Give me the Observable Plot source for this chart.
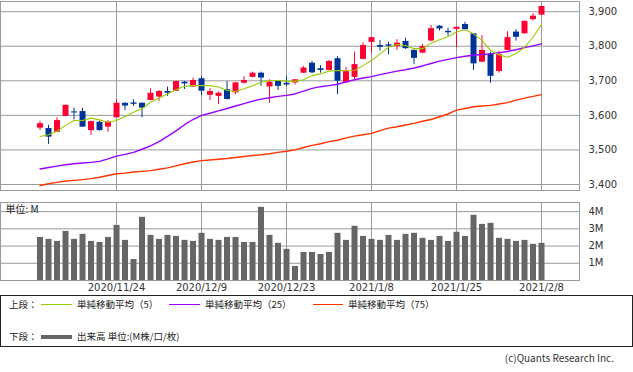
<!DOCTYPE html>
<html><head><meta charset="utf-8">
<script src="https://cdn.jsdelivr.net/npm/d3@7"></script>
<script src="https://cdn.jsdelivr.net/npm/@observablehq/plot@0.6"></script>
<style>
html,body{margin:0;padding:0;background:#fff;}
#wrap{position:relative;width:633px;height:372px;overflow:hidden;font-family:"Noto Sans CJK JP",sans-serif;color:#222;}
#price{position:absolute;left:0;top:0;}
#vol{position:absolute;left:0;top:196px;}
#legend{position:absolute;left:0;top:295px;width:631px;height:50px;border:1px solid #222;font-size:9.5px;}
.lt{position:absolute;line-height:12px;white-space:nowrap;}
.sw{position:absolute;}
#copy{position:absolute;right:19px;top:350px;font-size:10px;color:#333;white-space:nowrap;}
</style></head>
<body>
<div id="wrap">
  <div id="price"></div>
  <div id="vol"></div>
  <div id="legend"></div>
  <div id="copy">(c)Quants Research Inc.</div>
</div>
<script>
// ---- data ----
const open  = [3563,3562,3551,3597,3610,3611,3556,3580,3566,3593,3635,3636,3635,3643,3653,3669,3670,3696,3682,3706,3658,3655,3674,3665,3693,3710,3722,3682,3699,3693,3694,3722,3751,3735,3730,3764,3694,3710,3762,3811,3802,3804,3799,3814,3788,3780,3815,3858,3843,3849,3863,3836,3754,3778,3727,3788,3841,3836,3877,3890];
const high  = [3582,3571,3593,3630,3621,3620,3583,3583,3585,3645,3636,3645,3636,3677,3672,3682,3699,3698,3708,3712,3677,3667,3698,3695,3712,3725,3725,3703,3700,3712,3703,3741,3756,3744,3759,3770,3739,3783,3810,3826,3817,3812,3819,3823,3789,3805,3860,3860,3852,3856,3869,3837,3831,3783,3785,3842,3848,3873,3894,3916];
const low   = [3556,3516,3550,3596,3587,3565,3542,3554,3551,3592,3614,3626,3593,3642,3641,3655,3669,3675,3681,3657,3643,3631,3645,3660,3691,3709,3684,3635,3672,3684,3688,3721,3720,3722,3729,3660,3693,3704,3761,3780,3786,3775,3788,3791,3747,3778,3814,3844,3829,3796,3847,3730,3753,3693,3722,3787,3815,3835,3873,3889];
const close = [3576,3537,3585,3629,3607,3566,3582,3556,3580,3635,3627,3632,3621,3664,3669,3664,3698,3691,3701,3670,3669,3664,3646,3694,3701,3722,3708,3696,3684,3688,3703,3737,3723,3730,3756,3699,3727,3747,3802,3825,3797,3800,3809,3793,3765,3799,3851,3850,3839,3855,3848,3749,3788,3713,3776,3825,3826,3872,3887,3915];
const volume = [2.50,2.39,2.27,2.85,2.39,2.68,2.27,2.21,2.50,3.20,2.33,1.22,3.67,2.62,2.39,2.62,2.56,2.33,2.27,2.74,2.39,2.33,2.50,2.50,2.21,2.21,4.25,2.62,2.16,1.81,0.82,1.63,1.63,1.51,1.63,2.74,2.33,3.15,2.56,2.39,2.33,2.62,2.33,2.68,2.74,2.45,2.33,2.56,2.27,2.80,2.56,3.79,3.26,3.32,2.45,2.39,2.27,2.33,2.10,2.16];
const ma5  = [3539,3544,3554,3571,3585,3585,3592,3587,3580,3585,3597,3609,3619,3638,3650,3662,3674,3684,3686,3686,3686,3682,3672,3669,3677,3686,3696,3701,3701,3699,3699,3703,3715,3720,3728,3730,3729,3730,3744,3759,3778,3797,3805,3802,3793,3793,3809,3819,3828,3841,3848,3836,3817,3788,3775,3768,3778,3797,3826,3863];
const ma25 = [3445,3449,3453,3457,3460,3462,3464,3467,3474,3482,3487,3493,3502,3512,3524,3539,3555,3573,3588,3600,3606,3613,3620,3627,3634,3641,3647,3651,3655,3658,3662,3670,3678,3683,3686,3690,3697,3703,3708,3712,3718,3723,3728,3732,3737,3743,3750,3757,3762,3767,3771,3774,3776,3778,3781,3785,3790,3796,3801,3807];
const ma75 = [3397,3402,3406,3410,3412,3414,3417,3421,3426,3431,3433,3436,3438,3440,3444,3448,3454,3460,3465,3469,3471,3473,3475,3478,3481,3484,3486,3489,3493,3496,3500,3507,3513,3518,3524,3528,3535,3540,3544,3548,3556,3563,3567,3572,3577,3583,3588,3596,3604,3615,3620,3625,3627,3629,3633,3637,3644,3650,3655,3660];
const tickIdx = [9,19,29,39,49,59];
const tickLabels = ["2020/11/24","2020/12/9","2020/12/23","2021/1/8","2021/1/25","2021/2/8"];
const priceTicks = [3400,3500,3600,3700,3800,3900];
const volTicks = [1,2,3,4];

// ---- build ----
const rows = d3.range(open.length).map(i => ({
  i, o: open[i], h: high[i], l: low[i], c: close[i], v: volume[i],
  m5: ma5[i], m25: ma25[i], m75: ma75[i], up: close[i] >= open[i]
}));
const ups = rows.filter(d => d.up), downs = rows.filter(d => !d.up);
const RED = "#ff0033", BLUE = "#003399", GRID = "#9a9a9a";
const xDomain = [-4.65, 63.47];
const axisStyle = {fontFamily: "DejaVu Sans", fontSize: "10px", color: "#333", background: "transparent", overflow: "visible"};

const price = Plot.plot({
  width: 633, height: 196,
  marginLeft: 0, marginRight: 54, marginTop: 1, marginBottom: 6,
  x: {domain: xDomain, axis: null},
  y: {domain: [3382.6, 3929.5]},
  style: axisStyle,
  marks: [
    Plot.ruleY(priceTicks, {stroke: GRID}),
    Plot.ruleX(tickIdx, {stroke: GRID}),
    Plot.frame({stroke: GRID}),
    Plot.ruleX(ups, {x: "i", y1: "l", y2: "h", stroke: RED, strokeWidth: 1}),
    Plot.ruleX(downs, {x: "i", y1: "l", y2: "h", stroke: BLUE, strokeWidth: 1}),
    Plot.ruleX(ups, {x: "i", y1: "o", y2: "c", stroke: RED, strokeWidth: 6}),
    Plot.ruleX(downs, {x: "i", y1: "o", y2: "c", stroke: BLUE, strokeWidth: 6}),
    Plot.line(rows, {x: "i", y: "m75", stroke: "#ff3300", strokeWidth: 1.4}),
    Plot.line(rows, {x: "i", y: "m25", stroke: "#9900ff", strokeWidth: 1.4}),
    Plot.line(rows, {x: "i", y: "m5", stroke: "#99cc00", strokeWidth: 1.1}),
    Plot.axisY(priceTicks, {anchor: "right", tickSize: 0, tickPadding: 9, tickFormat: d3.format(","), label: null})
  ]
});
document.getElementById("price").appendChild(price);

const vol = Plot.plot({
  width: 633, height: 98,
  marginLeft: 0, marginRight: 54, marginTop: 6, marginBottom: 14,
  x: {domain: xDomain},
  y: {domain: [0, 4.53]},
  style: axisStyle,
  marks: [
    Plot.ruleY(volTicks, {stroke: GRID}),
    Plot.ruleX(tickIdx, {stroke: GRID}),
    Plot.frame({stroke: GRID}),
    Plot.text(["単位: M"], {frameAnchor: "top-left", dx: 5, dy: 3, fill: "#222", fontFamily: "Noto Sans CJK JP", fontSize: 10}),
    Plot.ruleX(rows, {x: "i", y1: 0, y2: "v", stroke: "#666", strokeWidth: 6}),
    Plot.axisY(volTicks, {anchor: "right", tickSize: 0, tickPadding: 9, tickFormat: d => d + "M", label: null}),
    Plot.axisX(tickIdx, {anchor: "bottom", tickSize: 0, tickPadding: 3, tickFormat: d => tickLabels[tickIdx.indexOf(d)], label: null})
  ]
});
document.getElementById("vol").appendChild(vol);

// ---- legend ----
const legendItems = [
  {type: "text", text: "上段：", x: 8, y: 2},
  {type: "sw", x: 40, y: 8, w: 31, h: 1, color: "#99cc00"},
  {type: "text", text: "単純移動平均（5）", x: 76, y: 2},
  {type: "sw", x: 168, y: 8, w: 31, h: 1, color: "#9900ff"},
  {type: "text", text: "単純移動平均（25）", x: 204, y: 2},
  {type: "sw", x: 312, y: 8, w: 30, h: 1, color: "#ff3300"},
  {type: "text", text: "単純移動平均（75）", x: 347, y: 2},
  {type: "text", text: "下段：", x: 8, y: 34},
  {type: "sw", x: 40, y: 39, w: 31, h: 4, color: "#666"},
  {type: "text", text: "出来高 単位:(M株/口/枚)", x: 76, y: 34}
];
const lg = document.getElementById("legend");
for (const it of legendItems) {
  const el = document.createElement("div");
  if (it.type === "text") {
    el.className = "lt"; el.textContent = it.text;
    el.style.left = it.x + "px"; el.style.top = it.y + "px";
  } else {
    el.className = "sw";
    el.style.left = it.x + "px"; el.style.top = it.y + "px";
    el.style.width = it.w + "px"; el.style.height = it.h + "px";
    el.style.background = it.color;
  }
  lg.appendChild(el);
}
</script>
</body></html>
